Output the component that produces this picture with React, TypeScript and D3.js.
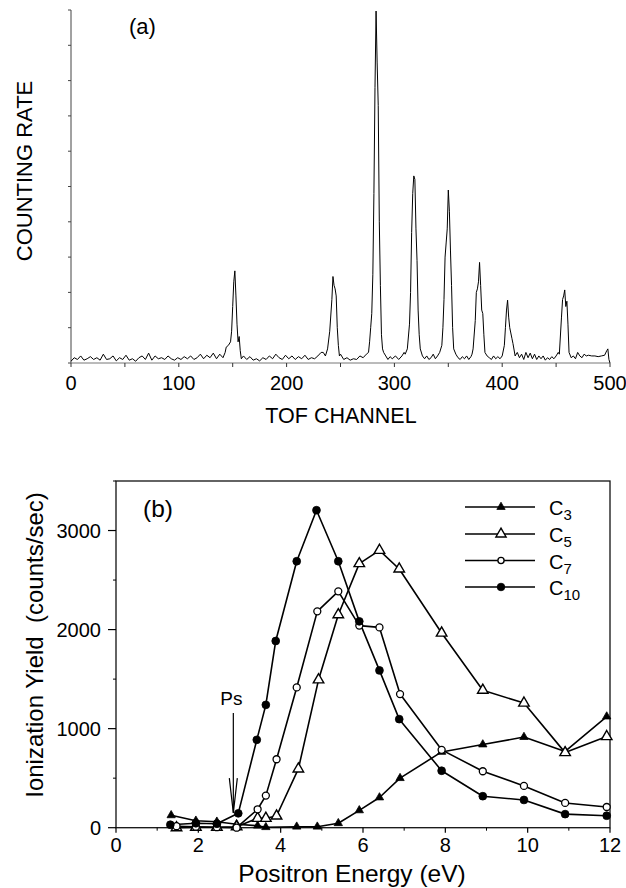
import React from "react";
import * as d3 from "d3";

// ---------- Panel (a): TOF spectrum ----------
const tofTicks = [0, 100, 200, 300, 400, 500];
const tofMinorTicks = [50, 150, 250, 350, 450];
const rateTicks = [0, 1, 2, 3, 4, 5, 6, 7, 8, 9, 10];

// [channel, counting rate (arb. units, 10 = top of axis)]
const spectrum: [number, number][] = [
  [0, 0.05], [3, 0.15], [6, 0.1], [9, 0.2], [12, 0.08], [15, 0.12], [18, 0.18], [21, 0.1], [24, 0.15], [27, 0.08],
  [30, 0.25], [33, 0.1], [36, 0.12], [39, 0.2], [42, 0.06], [45, 0.15], [48, 0.1], [51, 0.22], [54, 0.08], [57, 0.12],
  [60, 0.05], [63, 0.15], [66, 0.2], [69, 0.1], [72, 0.28], [75, 0.08], [78, 0.2], [81, 0.12], [84, 0.15], [87, 0.1],
  [90, 0.2], [93, 0.12], [96, 0.08], [99, 0.15], [102, 0.1], [105, 0.18], [108, 0.12], [111, 0.2], [114, 0.1], [117, 0.15],
  [120, 0.25], [123, 0.12], [126, 0.22], [129, 0.15], [132, 0.28], [135, 0.12], [138, 0.25], [141, 0.15],
  [143, 0.3], [144, 0.45], [146, 0.5], [148, 0.6], [149, 0.9], [150, 1.6], [151, 2.3], [152, 2.61], [153, 1.9],
  [154, 1.1], [155, 0.6], [156, 0.75], [157, 0.35], [158, 0.12],
  [160, 0.2], [163, 0.1], [166, 0.18], [169, 0.08], [172, 0.12], [175, 0.06], [178, 0.15], [181, 0.1], [184, 0.2],
  [187, 0.12], [190, 0.25], [193, 0.15], [196, 0.1], [199, 0.22], [202, 0.12], [205, 0.2], [208, 0.1], [211, 0.18],
  [214, 0.12], [217, 0.22], [220, 0.1], [223, 0.15], [226, 0.12], [229, 0.2], [232, 0.3], [234, 0.3],
  [236, 0.2], [238, 0.4], [240, 0.9], [242, 1.8], [243, 2.45], [244, 2.2], [245, 2.1], [246, 1.9], [247, 1.0],
  [248, 0.5], [249, 0.2], [250, 0.25],
  [253, 0.1], [256, 0.15], [259, 0.08], [262, 0.12], [265, 0.1], [268, 0.2], [271, 0.15], [274, 0.25],
  [276, 0.3], [277, 0.6], [278, 1.0], [279, 1.4], [280, 2.5], [281, 4.8], [282, 7.8], [283, 9.97], [284, 8.5],
  [285, 7.3], [286, 4.0], [287, 2.2], [288, 0.8], [289, 0.4], [290, 0.3], [292, 0.2],
  [294, 0.1], [296, 0.18], [298, 0.12], [301, 0.2], [304, 0.1], [307, 0.2], [309, 0.3],
  [310, 0.25], [312, 0.4], [314, 1.1], [315, 2.0], [316, 3.7], [317, 4.8], [318, 5.3], [319, 5.2], [320, 3.8],
  [321, 2.9], [322, 1.5], [323, 0.8], [324, 0.4], [326, 0.2],
  [328, 0.12], [330, 0.2], [332, 0.1], [334, 0.15], [336, 0.25], [338, 0.12], [340, 0.2],
  [342, 0.3], [344, 0.5], [345, 1.0], [346, 1.8], [347, 3.0], [348, 3.4], [349, 3.8], [350, 4.9], [351, 4.3],
  [352, 3.2], [353, 2.2], [354, 1.0], [355, 0.4], [357, 0.25],
  [359, 0.15], [361, 0.1], [363, 0.18], [365, 0.12], [367, 0.2], [369, 0.1], [371, 0.18],
  [372, 0.25], [373, 0.4], [375, 1.2], [376, 2.0], [377, 2.1], [378, 2.3], [379, 2.85], [380, 2.2], [381, 1.5],
  [382, 1.4], [383, 0.8], [384, 0.3], [386, 0.2],
  [388, 0.15], [390, 0.1], [392, 0.2], [394, 0.12], [396, 0.18], [398, 0.12],
  [400, 0.2], [402, 0.5], [403, 1.0], [404, 1.5], [405, 1.78], [406, 1.3], [407, 1.0], [408, 0.85], [409, 0.7],
  [410, 0.55], [412, 0.2],
  [414, 0.3], [416, 0.15], [418, 0.25], [420, 0.1], [422, 0.3], [424, 0.15], [426, 0.28], [428, 0.12], [430, 0.25],
  [432, 0.1], [434, 0.2], [436, 0.12], [438, 0.2], [440, 0.08], [442, 0.15], [444, 0.1], [446, 0.18], [448, 0.12],
  [450, 0.2], [452, 0.3],
  [453, 0.25], [455, 1.3], [456, 1.8], [457, 1.9], [458, 2.07], [459, 1.6], [460, 1.75], [461, 1.1], [462, 0.3], [464, 0.15],
  [466, 0.2], [468, 0.12], [470, 0.3], [472, 0.2], [474, 0.15], [476, 0.25], [478, 0.2], [480, 0.22], [483, 0.2],
  [486, 0.2], [489, 0.18], [492, 0.2], [495, 0.22], [497, 0.35], [498, 0.4], [499, 0.1], [500, 0],
];

// ---------- Panel (b): ionization yield ----------
const energyTicks = [0, 2, 4, 6, 8, 10, 12];
const energyMinorTicks = [1, 3, 5, 7, 9, 11];
const yieldTicks = [0, 1000, 2000, 3000];
const yieldMinorTicks = [500, 1500, 2500, 3500];

const c3Energy = [1.34, 1.94, 2.45, 2.93, 3.44, 3.64, 4.39, 4.89, 5.4, 5.91, 6.4, 6.9, 7.91, 8.91, 9.91, 10.91, 11.92];
const c3Yield = [125, 70, 60, 35, 20, 5, 10, 10, 45, 175, 305, 500, 765, 840, 915, 770, 1122];

const c5Energy = [1.47, 1.94, 2.45, 2.93, 3.44, 3.64, 3.9, 4.43, 4.92, 5.4, 5.91, 6.4, 6.88, 7.91, 8.91, 9.91, 10.91, 11.92];
const c5Yield = [0, 5, 5, 10, 95, 95, 118, 593, 1493, 2150, 2666, 2800, 2612, 1965, 1388, 1258, 758, 920];

const c7Energy = [1.47, 1.94, 2.45, 2.93, 3.44, 3.64, 3.9, 4.39, 4.89, 5.4, 5.91, 6.4, 6.9, 7.91, 8.91, 9.91, 10.91, 11.92];
const c7Yield = [15, 10, 5, 0, 186, 324, 691, 1416, 2184, 2386, 2040, 2022, 1349, 786, 570, 422, 250, 209];

const c10Energy = [1.32, 1.94, 2.45, 2.97, 3.42, 3.64, 3.88, 4.39, 4.87, 5.4, 5.91, 6.4, 6.88, 7.91, 8.91, 9.91, 10.91, 11.92];
const c10Yield = [30, 45, 40, 145, 887, 1240, 1885, 2690, 3205, 2690, 2083, 1588, 1096, 575, 318, 280, 137, 121];

const seriesNames = ["3", "5", "7", "10"];
const psEnergy = 2.85;

const FONT = "'Liberation Sans', Arial, Helvetica, sans-serif";

type Marker = "triFilled" | "triOpen" | "circOpen" | "circFilled";

function MarkerShape({ kind, x, y, legend = false }: { kind: Marker; x: number; y: number; legend?: boolean }) {
  if (kind === "triFilled" || kind === "triOpen") {
    const size = kind === "triFilled" ? (legend ? 30 : 30) : legend ? 45 : 48;
    const p = d3.symbol().type(d3.symbolTriangle).size(size)()!;
    return (
      <path
        d={p}
        transform={`translate(${x},${y})`}
        fill={kind === "triFilled" ? "#000" : "#fff"}
        stroke="#000"
        strokeWidth={kind === "triFilled" ? 0.8 : 1.4}
      />
    );
  }
  const r = kind === "circFilled" ? (legend ? 3.8 : 3.9) : legend ? 3.1 : 3.5;
  return (
    <circle
      cx={x}
      cy={y}
      r={r}
      fill={kind === "circFilled" ? "#000" : "#fff"}
      stroke="#000"
      strokeWidth={kind === "circFilled" ? 0.8 : 1.3}
    />
  );
}

export default function App() {
  // Panel (a) scales
  const xA = d3.scaleLinear().domain([0, 500]).range([71, 610]);
  const yA = d3.scaleLinear().domain([0, 10]).range([363, 10]);
  const specLine = d3
    .line<[number, number]>()
    .x((d) => xA(d[0]))
    .y((d) => yA(d[1]));

  // Panel (b) scales
  const xB = d3.scaleLinear().domain([0, 12]).range([116, 610]);
  const yB = d3.scaleLinear().domain([0, 3500]).range([827.7, 481]);
  const yLine = d3
    .line<[number, number]>()
    .x((d) => xB(d[0]))
    .y((d) => yB(d[1]));

  const series: { name: string; e: number[]; v: number[]; marker: Marker }[] = [
    { name: seriesNames[0], e: c3Energy, v: c3Yield, marker: "triFilled" },
    { name: seriesNames[1], e: c5Energy, v: c5Yield, marker: "triOpen" },
    { name: seriesNames[2], e: c7Energy, v: c7Yield, marker: "circOpen" },
    { name: seriesNames[3], e: c10Energy, v: c10Yield, marker: "circFilled" },
  ];

  const legendY = [507, 534, 560.5, 587];
  const psX = xB(psEnergy);

  return (
    <svg
      width={626}
      height={888}
      style={{ position: "absolute", left: 0, top: 0, background: "#fff" }}
      fontFamily={FONT}
    >
      <rect x={0} y={0} width={626} height={888} fill="#fff" />

      {/* ===== Panel (a) ===== */}
      <g>
        {/* y axis */}
        <line x1={xA(0)} x2={xA(0)} y1={yA(10)} y2={yA(0)} stroke="#444" strokeWidth={1} />
        {rateTicks.map((t) => (
          <line key={"ya" + t} x1={xA(0) - 3} x2={xA(0)} y1={yA(t)} y2={yA(t)} stroke="#444" strokeWidth={1} />
        ))}
        {/* x axis */}
        <line x1={xA(0)} x2={xA(500)} y1={yA(0)} y2={yA(0)} stroke="#777" strokeWidth={1} />
        {[...tofTicks, ...tofMinorTicks].map((t) => (
          <line key={"xa" + t} x1={xA(t)} x2={xA(t)} y1={yA(0)} y2={yA(0) + 4} stroke="#333" strokeWidth={1} />
        ))}
        {tofTicks.map((t) => (
          <text key={"xal" + t} x={xA(t)} y={390} fontSize={20} textAnchor="middle" fill="#000">
            {t}
          </text>
        ))}
        <text x={341} y={423} fontSize={21.5} textAnchor="middle" fill="#000">
          TOF CHANNEL
        </text>
        <text
          x={0}
          y={0}
          fontSize={22}
          textAnchor="middle"
          fill="#000"
          transform={`translate(32,171) rotate(-90)`}
        >
          COUNTING RATE
        </text>
        <text x={129} y={34} fontSize={22} fill="#000">
          (a)
        </text>
        <path d={specLine(spectrum)!} fill="none" stroke="#000" strokeWidth={1} strokeLinejoin="round" />
      </g>

      {/* ===== Panel (b) ===== */}
      <g>
        <rect
          x={xB(0)}
          y={yB(3500)}
          width={xB(12) - xB(0)}
          height={yB(0) - yB(3500)}
          fill="none"
          stroke="#111"
          strokeWidth={1.3}
        />
        {yieldTicks.map((t) => (
          <g key={"yb" + t}>
            <line x1={xB(0) - 8} x2={xB(0)} y1={yB(t)} y2={yB(t)} stroke="#000" strokeWidth={1.2} />
            <text x={101} y={yB(t)} dy="0.36em" fontSize={20} textAnchor="end" fill="#000">
              {t}
            </text>
          </g>
        ))}
        {yieldMinorTicks.map((t) => (
          <line key={"ybm" + t} x1={xB(0) - 3} x2={xB(0)} y1={yB(t)} y2={yB(t)} stroke="#000" strokeWidth={1} />
        ))}
        {energyTicks.map((t) => (
          <g key={"xb" + t}>
            <line x1={xB(t)} x2={xB(t)} y1={yB(0)} y2={yB(0) + 5} stroke="#000" strokeWidth={1.2} />
            <text x={xB(t)} y={852} fontSize={20} textAnchor="middle" fill="#000">
              {t}
            </text>
          </g>
        ))}
        {energyMinorTicks.map((t) => (
          <line key={"xbm" + t} x1={xB(t)} x2={xB(t)} y1={yB(0)} y2={yB(0) + 3} stroke="#000" strokeWidth={1} />
        ))}
        <text x={352} y={882} fontSize={24.5} textAnchor="middle" fill="#000">
          Positron Energy (eV)
        </text>
        <text
          x={0}
          y={0}
          fontSize={24}
          textAnchor="middle"
          fill="#000"
          transform={`translate(43,645) rotate(-90)`}
          style={{ whiteSpace: "pre" }}
        >
          {"Ionization Yield  (counts/sec)"}
        </text>
        <text x={143} y={517} fontSize={24.5} fill="#000">
          (b)
        </text>

        {/* Ps arrow */}
        <text x={psX - 13} y={705} fontSize={19} fill="#000">
          Ps
        </text>
        <line x1={psX} x2={psX} y1={713} y2={yB(150)} stroke="#000" strokeWidth={1.2} />
        <polyline
          points={`${psX - 4},${yB(500)} ${psX},${yB(150)} ${psX + 4},${yB(500)}`}
          fill="none"
          stroke="#000"
          strokeWidth={1.2}
        />

        {/* series lines */}
        {series.map((s) => (
          <path
            key={"l" + s.name}
            d={yLine(s.e.map((e, i) => [e, s.v[i]] as [number, number]))!}
            fill="none"
            stroke="#000"
            strokeWidth={1.6}
            strokeLinejoin="round"
          />
        ))}
        {/* markers */}
        {series.map((s) => (
          <g key={"m" + s.name}>
            {s.e.map((e, i) => (
              <MarkerShape key={i} kind={s.marker} x={xB(e)} y={yB(s.v[i])} />
            ))}
          </g>
        ))}

        {/* legend */}
        {series.map((s, i) => (
          <g key={"lg" + s.name}>
            <line x1={465} x2={535} y1={legendY[i]} y2={legendY[i]} stroke="#000" strokeWidth={1.4} />
            <MarkerShape kind={s.marker} x={501} y={legendY[i]} legend />
            <text x={549} y={legendY[i] + 8} fontSize={20} fill="#000">
              C
              <tspan fontSize={15} dy={5}>
                {s.name}
              </tspan>
            </text>
          </g>
        ))}
      </g>
    </svg>
  );
}
